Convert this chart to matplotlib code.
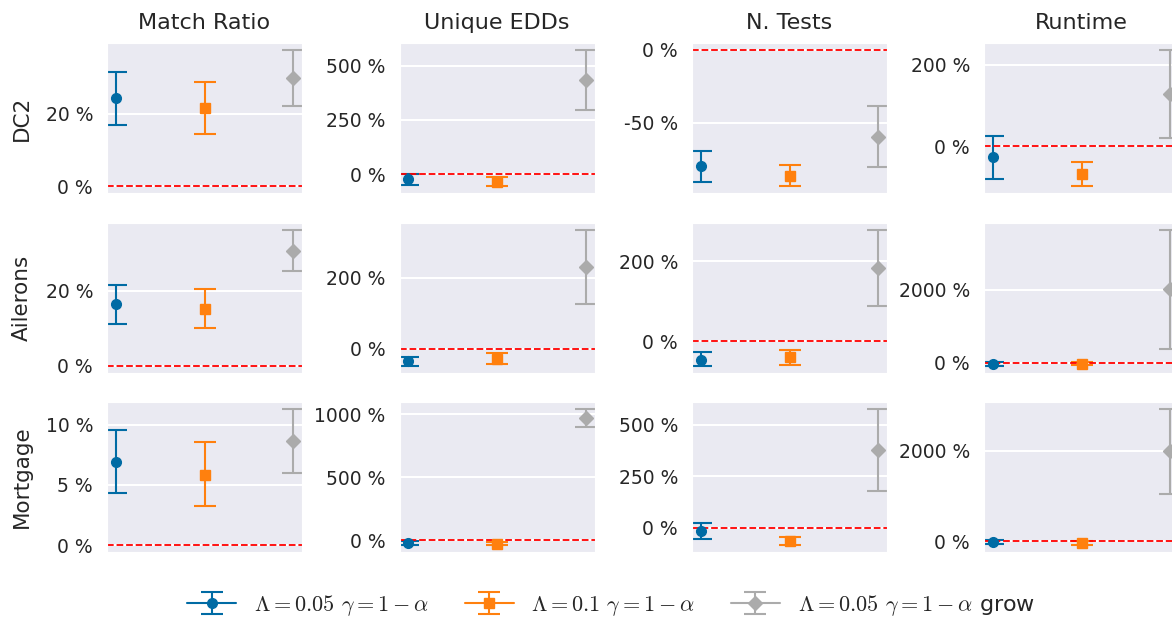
import matplotlib
matplotlib.use("Agg")
import matplotlib.pyplot as plt
from matplotlib.ticker import MaxNLocator, FuncFormatter
import seaborn as sns

sns.set_style("darkgrid")
plt.rcParams['font.family'] = ['DejaVu Sans']
plt.rcParams['mathtext.fontset'] = 'cm'

datasets = ["DC2", "Ailerons", "Mortgage"]
metrics = ["Match Ratio", "Unique EDDs", "N. Tests", "Runtime"]
configs = [r"$\Lambda = 0.05$ $\gamma = 1 - \alpha$",
           r"$\Lambda = 0.1$ $\gamma = 1 - \alpha$",
           r"$\Lambda = 0.05$ $\gamma = 1 - \alpha$ grow"]
colors = ["#006BA4", "#FF800E", "#ABABAB"]
markers = ["o", "s", "D"]

# values in %, one row per dataset, one entry per config
match_mean = [[24.2, 21.5, 29.8], [16.4, 15.2, 30.6], [6.93, 5.84, 8.6]]
match_lo = [[17.0, 14.4, 22.0], [11.25, 10.0, 25.2], [4.3, 3.21, 5.97]]
match_hi = [[31.5, 28.7, 37.6], [21.4, 20.4, 36.3], [9.55, 8.52, 11.3]]

edds_mean = [[-22, -35, 433], [-36, -29, 231], [-21, -25, 969]]
edds_lo = [[-50, -54, 294], [-49, -43.6, 126], [-36, -38, 900]]
edds_hi = [[1, -12, 572], [-22.7, -14, 336], [-6, -12, 1045]]

tests_mean = [[-80, -86.8, -59.9], [-45.4, -40.3, 184], [-16, -64, 376]]
tests_lo = [[-90.7, -93.8, -80.4], [-61.3, -58.8, 87.5], [-53, -84, 176]]
tests_hi = [[-69.7, -79.4, -38.9], [-26, -21, 280], [24, -45, 576]]

runtime_mean = [[-26.6, -69, 128.7], [-40, -20, 2027], [-22, -44, 2000]]
runtime_lo = [[-80.4, -98.8, 20.7], [-85, -70, 384], [-70, -90, 1054]]
runtime_hi = [[24.9, -39, 237], [10, 30, 3660], [20, 0, 2936]]

all_mean = [match_mean, edds_mean, tests_mean, runtime_mean]
all_lo = [match_lo, edds_lo, tests_lo, runtime_lo]
all_hi = [match_hi, edds_hi, tests_hi, runtime_hi]

W, H = 1172, 619
fig = plt.figure(figsize=(W / 100, H / 100), dpi=100)

col_left = [107, 399.5, 692, 984]
row_top = [43, 222.7, 402]
aw, ah = 195, 150

pct = FuncFormatter(lambda v, p: "{:.0f} %".format(v))
handles = []
for r, ds in enumerate(datasets):
    for c, met in enumerate(metrics):
        ax = fig.add_axes([col_left[c] / W, 1 - (row_top[r] + ah) / H, aw / W, ah / H])
        for k in range(3):
            m = all_mean[c][r][k]
            lo = all_lo[c][r][k]
            hi = all_hi[c][r][k]
            eb = ax.errorbar([k], [m], yerr=[[m - lo], [hi - m]], color=colors[k],
                             marker=markers[k], markersize=7, capsize=8,
                             elinewidth=1.5, capthick=1.5, label=configs[k])
            if r == 0 and c == 0:
                handles.append(eb)
        ax.axhline(0, color="red", linestyle="--", linewidth=1.3)
        ax.set_xlim(-0.1, 2.1)
        ax.set_xticks([])
        ax.yaxis.set_major_locator(MaxNLocator(3, steps=[1, 2, 2.5, 5, 10]))
        ax.yaxis.set_major_formatter(pct)
        ax.grid(axis="y", color="white", linewidth=1.5)
        ax.tick_params(axis="y", labelsize=13.5, pad=10, length=0)
        if r == 0:
            ax.set_title(met, fontsize=16, pad=10)
        if c == 0:
            ax.set_ylabel(ds, fontsize=15.5, labelpad=10)

fig.legend(handles, configs, loc="center", bbox_to_anchor=(611 / W, 14 / H),
           ncol=3, frameon=False, fontsize=16, columnspacing=1.6,
           handlelength=2.2)

fig.savefig("out.png", dpi=100)
